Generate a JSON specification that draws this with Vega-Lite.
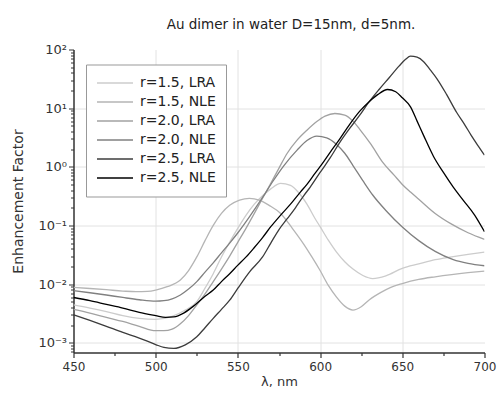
{
  "$schema": "https://vega.github.io/schema/vega-lite/v6.json",
  "width": 411,
  "height": 303,
  "autosize": {"type": "none"},
  "padding": {"left": 73.5, "top": 49.5, "right": 12.5, "bottom": 40.5},
  "config": {"view": {"stroke": null}, "font": "DejaVu Sans"},
  "title": {
    "text": "Au dimer in water D=15nm, d=5nm.",
    "font": "DejaVu Sans",
    "fontSize": 13.5,
    "fontWeight": "normal",
    "color": "#222222",
    "anchor": "middle",
    "frame": "group",
    "dx": 12,
    "dy": 1,
    "offset": 13
  },
  "data": {
    "values": [
      {"s": "r=1.5, LRA", "x": 450, "y": 0.0044},
      {"s": "r=1.5, LRA", "x": 460, "y": 0.0039},
      {"s": "r=1.5, LRA", "x": 470, "y": 0.0034},
      {"s": "r=1.5, LRA", "x": 480, "y": 0.0029},
      {"s": "r=1.5, LRA", "x": 490, "y": 0.0026},
      {"s": "r=1.5, LRA", "x": 500, "y": 0.0025},
      {"s": "r=1.5, LRA", "x": 510, "y": 0.0028},
      {"s": "r=1.5, LRA", "x": 518, "y": 0.0036},
      {"s": "r=1.5, LRA", "x": 525, "y": 0.005},
      {"s": "r=1.5, LRA", "x": 530, "y": 0.0085},
      {"s": "r=1.5, LRA", "x": 535, "y": 0.015},
      {"s": "r=1.5, LRA", "x": 540, "y": 0.029},
      {"s": "r=1.5, LRA", "x": 545, "y": 0.052},
      {"s": "r=1.5, LRA", "x": 550, "y": 0.09},
      {"s": "r=1.5, LRA", "x": 555, "y": 0.15},
      {"s": "r=1.5, LRA", "x": 560, "y": 0.23},
      {"s": "r=1.5, LRA", "x": 565, "y": 0.32},
      {"s": "r=1.5, LRA", "x": 570, "y": 0.42},
      {"s": "r=1.5, LRA", "x": 576, "y": 0.52},
      {"s": "r=1.5, LRA", "x": 582, "y": 0.48},
      {"s": "r=1.5, LRA", "x": 587, "y": 0.36},
      {"s": "r=1.5, LRA", "x": 592, "y": 0.23},
      {"s": "r=1.5, LRA", "x": 597, "y": 0.13},
      {"s": "r=1.5, LRA", "x": 600, "y": 0.095},
      {"s": "r=1.5, LRA", "x": 605, "y": 0.056},
      {"s": "r=1.5, LRA", "x": 610, "y": 0.035},
      {"s": "r=1.5, LRA", "x": 615, "y": 0.024},
      {"s": "r=1.5, LRA", "x": 620, "y": 0.018},
      {"s": "r=1.5, LRA", "x": 626, "y": 0.014},
      {"s": "r=1.5, LRA", "x": 632, "y": 0.0124},
      {"s": "r=1.5, LRA", "x": 640, "y": 0.0138},
      {"s": "r=1.5, LRA", "x": 650, "y": 0.0185},
      {"s": "r=1.5, LRA", "x": 660, "y": 0.022},
      {"s": "r=1.5, LRA", "x": 670, "y": 0.026},
      {"s": "r=1.5, LRA", "x": 680, "y": 0.029},
      {"s": "r=1.5, LRA", "x": 690, "y": 0.032},
      {"s": "r=1.5, LRA", "x": 700, "y": 0.035},

      {"s": "r=1.5, NLE", "x": 450, "y": 0.0088},
      {"s": "r=1.5, NLE", "x": 460, "y": 0.0084},
      {"s": "r=1.5, NLE", "x": 470, "y": 0.008},
      {"s": "r=1.5, NLE", "x": 480, "y": 0.0076},
      {"s": "r=1.5, NLE", "x": 488, "y": 0.0074},
      {"s": "r=1.5, NLE", "x": 495, "y": 0.0075},
      {"s": "r=1.5, NLE", "x": 500, "y": 0.0079},
      {"s": "r=1.5, NLE", "x": 507, "y": 0.009},
      {"s": "r=1.5, NLE", "x": 515, "y": 0.0117},
      {"s": "r=1.5, NLE", "x": 520, "y": 0.017},
      {"s": "r=1.5, NLE", "x": 525, "y": 0.029},
      {"s": "r=1.5, NLE", "x": 530, "y": 0.055},
      {"s": "r=1.5, NLE", "x": 535, "y": 0.1},
      {"s": "r=1.5, NLE", "x": 540, "y": 0.16},
      {"s": "r=1.5, NLE", "x": 545, "y": 0.22},
      {"s": "r=1.5, NLE", "x": 551, "y": 0.27},
      {"s": "r=1.5, NLE", "x": 557, "y": 0.29},
      {"s": "r=1.5, NLE", "x": 563, "y": 0.27},
      {"s": "r=1.5, NLE", "x": 569, "y": 0.22},
      {"s": "r=1.5, NLE", "x": 576, "y": 0.16},
      {"s": "r=1.5, NLE", "x": 583, "y": 0.09},
      {"s": "r=1.5, NLE", "x": 590, "y": 0.048},
      {"s": "r=1.5, NLE", "x": 595, "y": 0.029},
      {"s": "r=1.5, NLE", "x": 600, "y": 0.017},
      {"s": "r=1.5, NLE", "x": 605, "y": 0.0095},
      {"s": "r=1.5, NLE", "x": 610, "y": 0.006},
      {"s": "r=1.5, NLE", "x": 615, "y": 0.0042},
      {"s": "r=1.5, NLE", "x": 620, "y": 0.0036},
      {"s": "r=1.5, NLE", "x": 625, "y": 0.0041},
      {"s": "r=1.5, NLE", "x": 630, "y": 0.0054},
      {"s": "r=1.5, NLE", "x": 637, "y": 0.0072},
      {"s": "r=1.5, NLE", "x": 643, "y": 0.0088},
      {"s": "r=1.5, NLE", "x": 650, "y": 0.0102},
      {"s": "r=1.5, NLE", "x": 660, "y": 0.012},
      {"s": "r=1.5, NLE", "x": 670, "y": 0.0133},
      {"s": "r=1.5, NLE", "x": 680, "y": 0.0145},
      {"s": "r=1.5, NLE", "x": 690, "y": 0.0156},
      {"s": "r=1.5, NLE", "x": 700, "y": 0.0166},

      {"s": "r=2.0, LRA", "x": 450, "y": 0.0037},
      {"s": "r=2.0, LRA", "x": 460, "y": 0.0032},
      {"s": "r=2.0, LRA", "x": 470, "y": 0.0027},
      {"s": "r=2.0, LRA", "x": 480, "y": 0.0023},
      {"s": "r=2.0, LRA", "x": 490, "y": 0.0019},
      {"s": "r=2.0, LRA", "x": 500, "y": 0.0016},
      {"s": "r=2.0, LRA", "x": 505, "y": 0.0016},
      {"s": "r=2.0, LRA", "x": 510, "y": 0.0017},
      {"s": "r=2.0, LRA", "x": 515, "y": 0.0021},
      {"s": "r=2.0, LRA", "x": 520, "y": 0.0029},
      {"s": "r=2.0, LRA", "x": 525, "y": 0.0044},
      {"s": "r=2.0, LRA", "x": 530, "y": 0.0068},
      {"s": "r=2.0, LRA", "x": 535, "y": 0.011},
      {"s": "r=2.0, LRA", "x": 540, "y": 0.018},
      {"s": "r=2.0, LRA", "x": 545, "y": 0.03},
      {"s": "r=2.0, LRA", "x": 550, "y": 0.052},
      {"s": "r=2.0, LRA", "x": 555, "y": 0.09},
      {"s": "r=2.0, LRA", "x": 560, "y": 0.16},
      {"s": "r=2.0, LRA", "x": 565, "y": 0.29},
      {"s": "r=2.0, LRA", "x": 570, "y": 0.52},
      {"s": "r=2.0, LRA", "x": 575, "y": 0.95},
      {"s": "r=2.0, LRA", "x": 580, "y": 1.7},
      {"s": "r=2.0, LRA", "x": 586, "y": 2.84},
      {"s": "r=2.0, LRA", "x": 592, "y": 4.2},
      {"s": "r=2.0, LRA", "x": 598, "y": 5.9},
      {"s": "r=2.0, LRA", "x": 603, "y": 7.3},
      {"s": "r=2.0, LRA", "x": 609, "y": 8.1},
      {"s": "r=2.0, LRA", "x": 615, "y": 7.6},
      {"s": "r=2.0, LRA", "x": 620, "y": 6.0},
      {"s": "r=2.0, LRA", "x": 624, "y": 4.4},
      {"s": "r=2.0, LRA", "x": 631, "y": 2.4},
      {"s": "r=2.0, LRA", "x": 638, "y": 1.2},
      {"s": "r=2.0, LRA", "x": 645, "y": 0.72},
      {"s": "r=2.0, LRA", "x": 650, "y": 0.5},
      {"s": "r=2.0, LRA", "x": 655, "y": 0.37},
      {"s": "r=2.0, LRA", "x": 660, "y": 0.28},
      {"s": "r=2.0, LRA", "x": 670, "y": 0.16},
      {"s": "r=2.0, LRA", "x": 680, "y": 0.105},
      {"s": "r=2.0, LRA", "x": 690, "y": 0.075},
      {"s": "r=2.0, LRA", "x": 700, "y": 0.058},

      {"s": "r=2.0, NLE", "x": 450, "y": 0.0077},
      {"s": "r=2.0, NLE", "x": 460, "y": 0.0071},
      {"s": "r=2.0, NLE", "x": 470, "y": 0.0065},
      {"s": "r=2.0, NLE", "x": 480, "y": 0.0059},
      {"s": "r=2.0, NLE", "x": 490, "y": 0.0054},
      {"s": "r=2.0, NLE", "x": 500, "y": 0.0051},
      {"s": "r=2.0, NLE", "x": 505, "y": 0.0052},
      {"s": "r=2.0, NLE", "x": 510, "y": 0.0056},
      {"s": "r=2.0, NLE", "x": 515, "y": 0.0065},
      {"s": "r=2.0, NLE", "x": 520, "y": 0.0082},
      {"s": "r=2.0, NLE", "x": 525, "y": 0.011},
      {"s": "r=2.0, NLE", "x": 530, "y": 0.016},
      {"s": "r=2.0, NLE", "x": 535, "y": 0.023},
      {"s": "r=2.0, NLE", "x": 540, "y": 0.034},
      {"s": "r=2.0, NLE", "x": 545, "y": 0.05},
      {"s": "r=2.0, NLE", "x": 550, "y": 0.075},
      {"s": "r=2.0, NLE", "x": 557, "y": 0.14},
      {"s": "r=2.0, NLE", "x": 565, "y": 0.3},
      {"s": "r=2.0, NLE", "x": 571, "y": 0.55},
      {"s": "r=2.0, NLE", "x": 578, "y": 1.05},
      {"s": "r=2.0, NLE", "x": 586, "y": 1.92},
      {"s": "r=2.0, NLE", "x": 592, "y": 2.8},
      {"s": "r=2.0, NLE", "x": 598, "y": 3.33},
      {"s": "r=2.0, NLE", "x": 604, "y": 3.1},
      {"s": "r=2.0, NLE", "x": 610, "y": 2.4},
      {"s": "r=2.0, NLE", "x": 615, "y": 1.7},
      {"s": "r=2.0, NLE", "x": 620, "y": 1.05},
      {"s": "r=2.0, NLE", "x": 626, "y": 0.58},
      {"s": "r=2.0, NLE", "x": 632, "y": 0.33},
      {"s": "r=2.0, NLE", "x": 640, "y": 0.18},
      {"s": "r=2.0, NLE", "x": 650, "y": 0.094},
      {"s": "r=2.0, NLE", "x": 660, "y": 0.055},
      {"s": "r=2.0, NLE", "x": 670, "y": 0.036},
      {"s": "r=2.0, NLE", "x": 681, "y": 0.026},
      {"s": "r=2.0, NLE", "x": 690, "y": 0.0225},
      {"s": "r=2.0, NLE", "x": 700, "y": 0.0205},

      {"s": "r=2.5, LRA", "x": 450, "y": 0.003},
      {"s": "r=2.5, LRA", "x": 460, "y": 0.0024},
      {"s": "r=2.5, LRA", "x": 470, "y": 0.0019},
      {"s": "r=2.5, LRA", "x": 480, "y": 0.0015},
      {"s": "r=2.5, LRA", "x": 490, "y": 0.0012},
      {"s": "r=2.5, LRA", "x": 500, "y": 0.00093},
      {"s": "r=2.5, LRA", "x": 505, "y": 0.00083},
      {"s": "r=2.5, LRA", "x": 511, "y": 0.0008},
      {"s": "r=2.5, LRA", "x": 518, "y": 0.00092},
      {"s": "r=2.5, LRA", "x": 525, "y": 0.00126},
      {"s": "r=2.5, LRA", "x": 530, "y": 0.0018},
      {"s": "r=2.5, LRA", "x": 535, "y": 0.0026},
      {"s": "r=2.5, LRA", "x": 540, "y": 0.0037},
      {"s": "r=2.5, LRA", "x": 545, "y": 0.0053},
      {"s": "r=2.5, LRA", "x": 550, "y": 0.0085},
      {"s": "r=2.5, LRA", "x": 557, "y": 0.016},
      {"s": "r=2.5, LRA", "x": 565, "y": 0.029},
      {"s": "r=2.5, LRA", "x": 570, "y": 0.05},
      {"s": "r=2.5, LRA", "x": 575, "y": 0.085},
      {"s": "r=2.5, LRA", "x": 580, "y": 0.13},
      {"s": "r=2.5, LRA", "x": 585, "y": 0.2},
      {"s": "r=2.5, LRA", "x": 590, "y": 0.32},
      {"s": "r=2.5, LRA", "x": 594, "y": 0.45},
      {"s": "r=2.5, LRA", "x": 600, "y": 0.8},
      {"s": "r=2.5, LRA", "x": 606, "y": 1.4},
      {"s": "r=2.5, LRA", "x": 612, "y": 2.6},
      {"s": "r=2.5, LRA", "x": 618, "y": 4.5},
      {"s": "r=2.5, LRA", "x": 624, "y": 7.5},
      {"s": "r=2.5, LRA", "x": 630, "y": 13},
      {"s": "r=2.5, LRA", "x": 636, "y": 21},
      {"s": "r=2.5, LRA", "x": 642, "y": 33},
      {"s": "r=2.5, LRA", "x": 648, "y": 52},
      {"s": "r=2.5, LRA", "x": 652, "y": 68},
      {"s": "r=2.5, LRA", "x": 655, "y": 77},
      {"s": "r=2.5, LRA", "x": 659, "y": 74},
      {"s": "r=2.5, LRA", "x": 663, "y": 62},
      {"s": "r=2.5, LRA", "x": 667, "y": 45},
      {"s": "r=2.5, LRA", "x": 671, "y": 32},
      {"s": "r=2.5, LRA", "x": 677, "y": 17},
      {"s": "r=2.5, LRA", "x": 683, "y": 8.5},
      {"s": "r=2.5, LRA", "x": 688, "y": 5.2},
      {"s": "r=2.5, LRA", "x": 692, "y": 3.4},
      {"s": "r=2.5, LRA", "x": 696, "y": 2.3},
      {"s": "r=2.5, LRA", "x": 700, "y": 1.58},

      {"s": "r=2.5, NLE", "x": 450, "y": 0.0059},
      {"s": "r=2.5, NLE", "x": 460, "y": 0.0052},
      {"s": "r=2.5, NLE", "x": 470, "y": 0.0045},
      {"s": "r=2.5, NLE", "x": 480, "y": 0.0039},
      {"s": "r=2.5, NLE", "x": 490, "y": 0.0033},
      {"s": "r=2.5, NLE", "x": 500, "y": 0.0029},
      {"s": "r=2.5, NLE", "x": 506, "y": 0.0027},
      {"s": "r=2.5, NLE", "x": 511, "y": 0.00275},
      {"s": "r=2.5, NLE", "x": 517, "y": 0.0032},
      {"s": "r=2.5, NLE", "x": 523, "y": 0.0042},
      {"s": "r=2.5, NLE", "x": 530, "y": 0.0062},
      {"s": "r=2.5, NLE", "x": 535, "y": 0.0079},
      {"s": "r=2.5, NLE", "x": 540, "y": 0.011},
      {"s": "r=2.5, NLE", "x": 545, "y": 0.015},
      {"s": "r=2.5, NLE", "x": 550, "y": 0.021},
      {"s": "r=2.5, NLE", "x": 555, "y": 0.029},
      {"s": "r=2.5, NLE", "x": 560, "y": 0.042},
      {"s": "r=2.5, NLE", "x": 565, "y": 0.062},
      {"s": "r=2.5, NLE", "x": 570, "y": 0.095},
      {"s": "r=2.5, NLE", "x": 576, "y": 0.15},
      {"s": "r=2.5, NLE", "x": 582, "y": 0.23},
      {"s": "r=2.5, NLE", "x": 588, "y": 0.37},
      {"s": "r=2.5, NLE", "x": 592, "y": 0.5},
      {"s": "r=2.5, NLE", "x": 597, "y": 0.78},
      {"s": "r=2.5, NLE", "x": 601, "y": 1.1},
      {"s": "r=2.5, NLE", "x": 606, "y": 1.75},
      {"s": "r=2.5, NLE", "x": 612, "y": 3.0},
      {"s": "r=2.5, NLE", "x": 618, "y": 5.3},
      {"s": "r=2.5, NLE", "x": 624, "y": 8.8},
      {"s": "r=2.5, NLE", "x": 630, "y": 13},
      {"s": "r=2.5, NLE", "x": 635, "y": 17},
      {"s": "r=2.5, NLE", "x": 641, "y": 20.8},
      {"s": "r=2.5, NLE", "x": 646, "y": 19},
      {"s": "r=2.5, NLE", "x": 650, "y": 15},
      {"s": "r=2.5, NLE", "x": 655, "y": 10.5},
      {"s": "r=2.5, NLE", "x": 659, "y": 6},
      {"s": "r=2.5, NLE", "x": 663, "y": 3.4},
      {"s": "r=2.5, NLE", "x": 669, "y": 1.5},
      {"s": "r=2.5, NLE", "x": 675, "y": 0.8},
      {"s": "r=2.5, NLE", "x": 681, "y": 0.45},
      {"s": "r=2.5, NLE", "x": 687, "y": 0.27},
      {"s": "r=2.5, NLE", "x": 694, "y": 0.15},
      {"s": "r=2.5, NLE", "x": 700, "y": 0.078}
    ]
  },
  "mark": {"type": "line", "interpolate": "monotone", "clip": true},
  "encoding": {
    "x": {
      "field": "x",
      "type": "quantitative",
      "scale": {"domain": [450, 700], "nice": false, "zero": false},
      "axis": {
        "title": "λ, nm",
        "values": [450, 475, 500, 525, 550, 575, 600, 625, 650, 675, 700],
        "labelExpr": "datum.value % 50 === 0 ? datum.label : ''",
        "labelFlush": false,
        "labelFont": "DejaVu Sans",
        "labelFontSize": 12,
        "labelColor": "#333333",
        "labelPadding": 4,
        "titleFont": "DejaVu Sans",
        "titleFontSize": 13,
        "titleFontWeight": "normal",
        "titleColor": "#333333",
        "titlePadding": 3,
        "domainColor": "#333333",
        "domainWidth": 1.5,
        "tickColor": "#333333",
        "tickWidth": 1.2,
        "tickSize": {"condition": {"test": "datum.value % 50 === 0", "value": 5}, "value": 3},
        "grid": true,
        "gridColor": "#e2e2e2",
        "gridWidth": 1,
        "gridOpacity": {"condition": {"test": "datum.value % 50 === 0 && datum.value > 450 && datum.value < 700", "value": 1}, "value": 0}
      }
    },
    "y": {
      "field": "y",
      "type": "quantitative",
      "scale": {"type": "log", "domain": [0.00068, 100], "nice": false},
      "axis": {
        "title": "Enhancement Factor",
        "values": [0.0007, 0.0008, 0.0009, 0.001, 0.002, 0.003, 0.004, 0.005, 0.006, 0.007, 0.008, 0.009, 0.01, 0.02, 0.03, 0.04, 0.05, 0.06, 0.07, 0.08, 0.09, 0.1, 0.2, 0.3, 0.4, 0.5, 0.6, 0.7, 0.8, 0.9, 1, 2, 3, 4, 5, 6, 7, 8, 9, 10, 20, 30, 40, 50, 60, 70, 80, 90, 100],
        "labelExpr": "abs(log(datum.value)/LN10 - round(log(datum.value)/LN10)) < 0.001 ? (round(log(datum.value)/LN10) == 2 ? '10²' : round(log(datum.value)/LN10) == 1 ? '10¹' : round(log(datum.value)/LN10) == 0 ? '10⁰' : round(log(datum.value)/LN10) == -1 ? '10⁻¹' : round(log(datum.value)/LN10) == -2 ? '10⁻²' : '10⁻³') : ''",
        "labelFlush": false,
        "labelFont": "DejaVu Sans",
        "labelFontSize": 13,
        "labelColor": "#333333",
        "labelPadding": 2,
        "titleFont": "DejaVu Sans",
        "titleFontSize": 14,
        "titleFontWeight": "normal",
        "titleColor": "#333333",
        "titlePadding": 12,
        "domainColor": "#333333",
        "domainWidth": 1.5,
        "tickColor": "#333333",
        "tickWidth": 1,
        "tickSize": {"condition": {"test": "abs(log(datum.value)/LN10 - round(log(datum.value)/LN10)) < 0.001", "value": 5}, "value": 3},
        "grid": true,
        "gridColor": "#e2e2e2",
        "gridWidth": 1,
        "gridOpacity": {"condition": {"test": "abs(log(datum.value)/LN10 - round(log(datum.value)/LN10)) < 0.001 && datum.value < 50", "value": 1}, "value": 0}
      }
    },
    "color": {
      "field": "s",
      "type": "nominal",
      "scale": {
        "domain": ["r=1.5, LRA", "r=1.5, NLE", "r=2.0, LRA", "r=2.0, NLE", "r=2.5, LRA", "r=2.5, NLE"],
        "range": ["#cccccc", "#b5b5b5", "#a2a2a2", "#808080", "#3c3c3c", "#000000"]
      },
      "legend": {
        "title": null,
        "orient": "none",
        "legendX": 12.5,
        "legendY": 15,
        "symbolType": "stroke",
        "symbolSize": 1300,
        "symbolOpacity": 1,
        "clipHeight": 17,
        "labelFont": "DejaVu Sans",
        "labelFontSize": 14,
        "labelColor": "#222222",
        "labelOffset": 6,
        "strokeColor": "#999999",
        "fillColor": "#ffffff",
        "padding": 10,
        "rowPadding": 2
      }
    },
    "strokeWidth": {
      "field": "s",
      "type": "nominal",
      "scale": {
        "domain": ["r=1.5, LRA", "r=1.5, NLE", "r=2.0, LRA", "r=2.0, NLE", "r=2.5, LRA", "r=2.5, NLE"],
        "range": [1.3, 1.3, 1.3, 1.4, 1.3, 2.4]
      },
      "legend": {
        "title": null,
        "orient": "none",
        "legendX": 12.5,
        "legendY": 15,
        "symbolType": "stroke",
        "symbolSize": 1300,
        "symbolOpacity": 1,
        "clipHeight": 17,
        "labelFont": "DejaVu Sans",
        "labelFontSize": 14,
        "labelColor": "#222222",
        "labelOffset": 6,
        "strokeColor": "#999999",
        "fillColor": "#ffffff",
        "padding": 10,
        "rowPadding": 2
      }
    }
  }
}
